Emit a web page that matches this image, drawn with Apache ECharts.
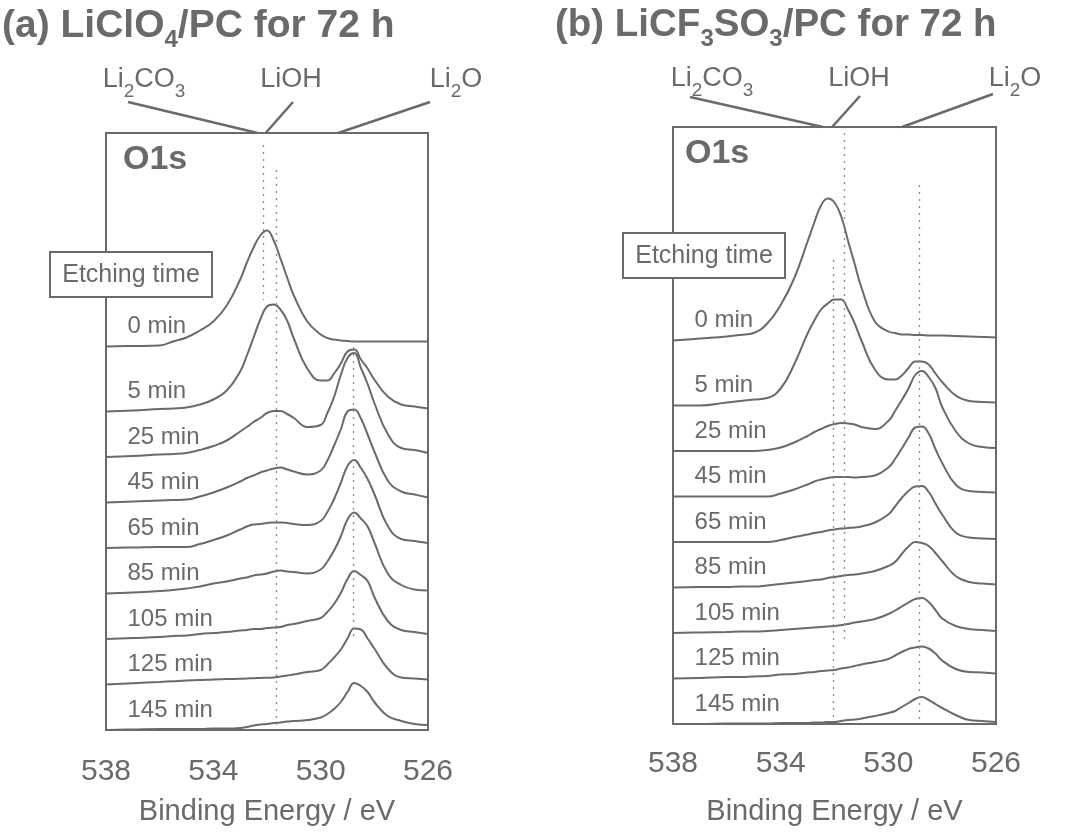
<!DOCTYPE html>
<html>
<head>
<meta charset="utf-8">
<script src="https://cdn.jsdelivr.net/npm/echarts@6/dist/echarts.min.js"></script>
<style>
  html, body { margin: 0; padding: 0; background: #ffffff; }
  #main { width: 1078px; height: 838px; }
</style>
</head>
<body>
<div id="main"></div>
<script>
// ---- data ---------------------------------------------------------------
// Binding energies (eV) at which every O1s spectrum is sampled
const energy = [538, 537, 536, 535.5, 535, 534.5, 534, 533.5, 533, 532.75, 532.5, 532.25,
  532, 531.75, 531.5, 531.25, 531, 530.5, 530, 529.75, 529.5, 529.25, 529, 528.75,
  528.5, 528.25, 528, 527.5, 527, 526.5, 526];

const etchTimes = ['0 min', '5 min', '25 min', '45 min', '65 min', '85 min', '105 min', '125 min', '145 min'];

// O1s intensity (a.u., background-referenced) - LiClO4/PC
const clo4_0   = [0, 0.5, 1, 5, 9, 16, 25, 41, 67, 84, 99, 111, 116, 106, 88, 69, 51, 25, 12, 8.5, 7, 6, 5.5, 5, 5, 5, 5, 5, 5, 5, 5];
const clo4_5   = [0, 1, 2.5, 3, 4, 7, 12, 21, 40, 56, 74, 92, 105, 107, 102, 91, 73, 43, 31, 31, 38, 48, 60, 62, 52, 43, 32, 15, 7, 5, 3];
const clo4_25  = [0, 1, 2.5, 3, 4, 7, 11, 16.5, 25.5, 30, 35, 39, 44, 46, 46, 43, 39, 30, 32, 44, 60, 82, 99, 104, 89, 73, 54, 23, 9, 7, 4];
const clo4_45  = [0, 1, 2, 2.5, 3, 6, 10, 15, 21, 24.5, 27, 30, 32, 34, 35, 33, 31, 28, 32, 42, 57, 73, 91, 93, 84, 68, 51, 22, 11, 8, 5];
const clo4_65  = [0, 0.5, 1, 1, 1, 4, 8, 12.5, 18.5, 21.5, 23.5, 24, 25, 25.5, 25.5, 25, 24, 23, 27, 36, 49, 65, 82, 88, 80, 69, 54, 22, 9, 7, 5];
const clo4_85  = [0, 1, 2.5, 3.5, 5, 7, 10, 12, 15, 16, 18, 19, 20, 22, 23, 22, 21.5, 20, 24, 32, 43, 57, 74, 81, 75, 67, 51, 20, 8.5, 4, 3];
const clo4_105 = [0, 1, 2, 3, 3.5, 5, 6, 7, 8.5, 9, 10, 10, 11, 11.5, 12, 14, 15, 18, 21, 27, 35, 46, 60, 68, 64, 58, 42, 18, 9, 7, 5];
const clo4_125 = [0, 1.3, 2.6, 3.3, 4, 4.4, 5, 5.4, 5.8, 6, 6.3, 6.5, 6.8, 7, 8, 9, 10, 12.5, 14.5, 20, 27, 35, 46, 56, 55, 46, 36, 16, 7, 6, 5];
const clo4_145 = [0, 0.5, 1, 1, 1, 1, 1.5, 1.5, 2, 3, 4.5, 5.5, 6, 7, 7.5, 8.5, 9, 10, 12.5, 16, 21, 28, 38, 47, 44, 38, 28, 14, 9, 6, 5];

// O1s intensity (a.u., background-referenced) - LiCF3SO3/PC
const tf_0   = [0, 2, 4, 5.5, 7.5, 17, 35.5, 62, 99, 118, 135, 142, 138, 124, 100, 76.5, 53, 19, 9, 7.5, 6, 6, 5.5, 5.5, 5, 5, 5, 4.5, 4, 3.5, 3];
const tf_5   = [0, 0, 3, 4.5, 6, 7.5, 17, 41, 72, 85, 96, 102, 106, 106, 96, 82, 65, 36, 26, 26, 30, 37.5, 44, 44, 41, 32, 23.5, 10, 4.5, 3.5, 3];
const tf_25  = [0, 0, 0, 0, 0, 1, 3.5, 8.5, 15, 19, 22, 25, 27, 28, 27.5, 26.5, 24, 22, 30, 40, 51, 62.5, 76, 80, 74, 63, 44, 20, 7.5, 4, 3];
const tf_45  = [0, 0, 0, 0, 0, 0, 3, 7, 12, 15, 17, 18.5, 19.5, 19.5, 19.5, 19, 19.5, 21, 29, 37.5, 48, 59, 69, 70, 63, 47.5, 33.5, 12, 5.5, 4.5, 4];
const tf_65  = [0, 0, 0, 0, 0, 0, 2, 5, 7.5, 9, 10, 11.5, 12.5, 13.5, 14, 14.5, 15.5, 19.5, 27.5, 35.5, 44, 51, 55.5, 56, 50, 38.5, 27.5, 9.5, 4.5, 3.5, 3];
const tf_85  = [0, 0.5, 0.5, 1, 1, 2, 3.5, 5, 6.5, 7.5, 8, 9.5, 10.5, 11.5, 12.5, 13, 14, 16.5, 21.5, 25.5, 33.5, 41, 45.5, 44.5, 41.5, 34.5, 26.5, 11.5, 5.5, 4, 3];
const tf_105 = [0, 0.5, 1, 1.5, 1.5, 2, 3, 4, 5, 5.5, 6, 6.5, 7, 8, 9, 10.5, 11.5, 14, 19, 22.5, 26.5, 30.5, 34, 35, 31, 23, 14.5, 7, 4, 3, 2];
const tf_125 = [0, 0.5, 1.5, 1.5, 2, 2.5, 4, 4.5, 6, 6.5, 7.5, 8, 8.5, 10, 11, 12.5, 14, 16.5, 19.5, 23, 26.5, 29.5, 31, 32, 30, 25, 18, 9.5, 6.5, 6, 5];
const tf_145 = [0, 0, 0.5, 0.5, 0.5, 0.5, 1, 1, 1, 1.5, 1.5, 2, 2, 3, 4, 4.5, 5.5, 8, 11, 13, 17, 21, 25, 27, 24, 20, 16, 9, 4, 3, 2];

// Reference binding energies (eV): Li2CO3, LiOH, Li2O
const refEnergyA = [532.15, 531.65, 528.8];
const refEnergyB = [532.05, 531.65, 528.85];
// Energies where the compound leader lines meet the top of each frame
const leaderEnergyA = [532.35, 532.05, 529.35];
const leaderEnergyB = [532.43, 532.09, 529.49];

const xTicks = [526, 530, 534, 538];

// ---- layout & style -----------------------------------------------------
const FONT = '"Liberation Sans", Arial, Helvetica, sans-serif';
const INK = '#6a6a6a';
const ROW_STEP = 45.5;   // vertical stacking step between spectra
const TOP_GAP = 65;      // extra space above the 5 min trace
const Y_SPAN = 597;

const panelRows = [
  [clo4_0, clo4_5, clo4_25, clo4_45, clo4_65, clo4_85, clo4_105, clo4_125, clo4_145],
  [tf_0, tf_5, tf_25, tf_45, tf_65, tf_85, tf_105, tf_125, tf_145]
];

function rowOffset(i) {
  const n = etchTimes.length;
  return i === 0 ? (n - 2) * ROW_STEP + TOP_GAP : (n - 1 - i) * ROW_STEP;
}

// vertical spans (axis units) of the dotted reference lines
const refSpans = [
  [[585, 430], [560, 5], [390, 90]],
  [[464, 4], [591, 84], [539, 4]]
];

function buildSeries(p) {
  const refs = p === 0 ? refEnergyA : refEnergyB;
  return panelRows[p].map((vals, i) => {
    const s = {
      type: 'line',
      name: etchTimes[i],
      xAxisIndex: p,
      yAxisIndex: p,
      data: energy.map((e, j) => [e, rowOffset(i) + vals[j]]),
      smooth: 0.45,
      showSymbol: false,
      symbol: 'none',
      silent: true,
      clip: false,
      lineStyle: { color: INK, width: 2 },
      z: 3
    };
    if (i === 0) {
      s.markLine = {
        silent: true,
        symbol: 'none',
        label: { show: false },
        lineStyle: { type: [2, 5], color: '#8c8c8c', width: 1.3 },
        data: refs.map((e, k) => [
          { coord: [e, refSpans[p][k][0]] },
          { coord: [e, refSpans[p][k][1]] }
        ])
      };
    }
    return s;
  });
}

function xAxisFor(p) {
  return {
    type: 'value',
    gridIndex: p,
    inverse: true,
    min: xTicks[0],
    max: xTicks[xTicks.length - 1],
    interval: 4,
    axisLine: { show: false },
    axisTick: { show: false },
    splitLine: { show: false },
    axisLabel: { fontSize: 30, color: INK, fontFamily: FONT, margin: p === 0 ? 27 : 25 },
    name: 'Binding Energy / eV',
    nameLocation: 'middle',
    nameGap: p === 0 ? 67 : 73,
    nameTextStyle: { fontSize: 29, color: INK, fontFamily: FONT }
  };
}

function yAxisFor(p) {
  return { type: 'value', gridIndex: p, min: 0, max: Y_SPAN, show: false };
}

const gridStyle = { show: true, borderColor: INK, borderWidth: 2, backgroundColor: 'transparent', containLabel: false, outerBoundsMode: 'none' };

const option = {
  animation: false,
  backgroundColor: '#ffffff',
  grid: [
    Object.assign({ left: 106, top: 133, width: 322, height: Y_SPAN }, gridStyle),
    Object.assign({ left: 673, top: 127, width: 323, height: Y_SPAN }, gridStyle)
  ],
  xAxis: [xAxisFor(0), xAxisFor(1)],
  yAxis: [yAxisFor(0), yAxisFor(1)],
  series: buildSeries(0).concat(buildSeries(1))
};

const chart = echarts.init(document.getElementById('main'), null, { renderer: 'canvas' });
chart.setOption(option);

// ---- annotations --------------------------------------------------------
function text(x, y, str, size, opts) {
  opts = opts || {};
  return {
    type: 'text', x: x, y: y, z: 20,
    style: Object.assign({
      text: str, fill: INK, fontSize: size, fontFamily: FONT,
      fontWeight: opts.bold ? 'bold' : 'normal',
      align: opts.align || 'left', verticalAlign: 'middle',
      textAlign: opts.align || 'left', textVerticalAlign: 'middle'
    }, opts.rich ? { rich: opts.rich } : {})
  };
}

function subRich(size, drop, bold) {
  return { s: { fontSize: size, fontFamily: FONT, fontWeight: bold ? 'bold' : 'normal', fill: INK, verticalAlign: 'middle', padding: [drop, 0, 0, 0] } };
}

const gfx = [];

// panel titles
gfx.push(text(2, 26, '(a) LiClO{s|4}/PC for 72 h', 39, { bold: true, rich: subRich(24, 28, true) }));
gfx.push(text(555, 25, '(b) LiCF{s|3}SO{s|3}/PC for 72 h', 38.5, { bold: true, rich: subRich(24, 28, true) }));

// compound labels and leader lines
const compoundLabels = ['Li{s|2}CO{s|3}', 'LiOH', 'Li{s|2}O'];
const labelPos = [
  [[144, 80], [291, 80], [456, 80]],
  [[712, 79], [859, 79], [1015, 79]]
];
const leaderStart = [
  [[128, 102], [293, 102], [430, 102]],
  [[690, 97], [860, 96], [993, 94]]
];
[leaderEnergyA, leaderEnergyB].forEach((les, p) => {
  les.forEach((e, k) => {
    gfx.push(text(labelPos[p][k][0], labelPos[p][k][1], compoundLabels[k], 27, { align: 'center', rich: subRich(19, 24) }));
    const end = chart.convertToPixel({ gridIndex: p }, [e, Y_SPAN]);
    gfx.push({
      type: 'line', z: 19,
      shape: { x1: leaderStart[p][k][0], y1: leaderStart[p][k][1], x2: end[0], y2: end[1] },
      style: { stroke: INK, lineWidth: 2.5 }
    });
  });
});

// O1s tags
gfx.push(text(123, 160, 'O1s', 34, { bold: true }));
gfx.push(text(685, 154, 'O1s', 34, { bold: true }));

// "Etching time" boxes
[[50, 252], [623, 233]].forEach(([bx, by]) => {
  gfx.push({
    type: 'rect', z: 18,
    shape: { x: bx, y: by, width: 162, height: 45 },
    style: { fill: '#ffffff', stroke: INK, lineWidth: 2 }
  });
  gfx.push(text(bx + 81, by + 23, 'Etching time', 25, { align: 'center' }));
});

// etching time label for every trace
[0, 1].forEach(p => {
  etchTimes.forEach((t, i) => {
    const pt = chart.convertToPixel({ gridIndex: p }, [537.2, rowOffset(i) + 20]);
    gfx.push(text(pt[0], pt[1], t, 24));
  });
});

chart.setOption({ graphic: gfx });
</script>
</body>
</html>
